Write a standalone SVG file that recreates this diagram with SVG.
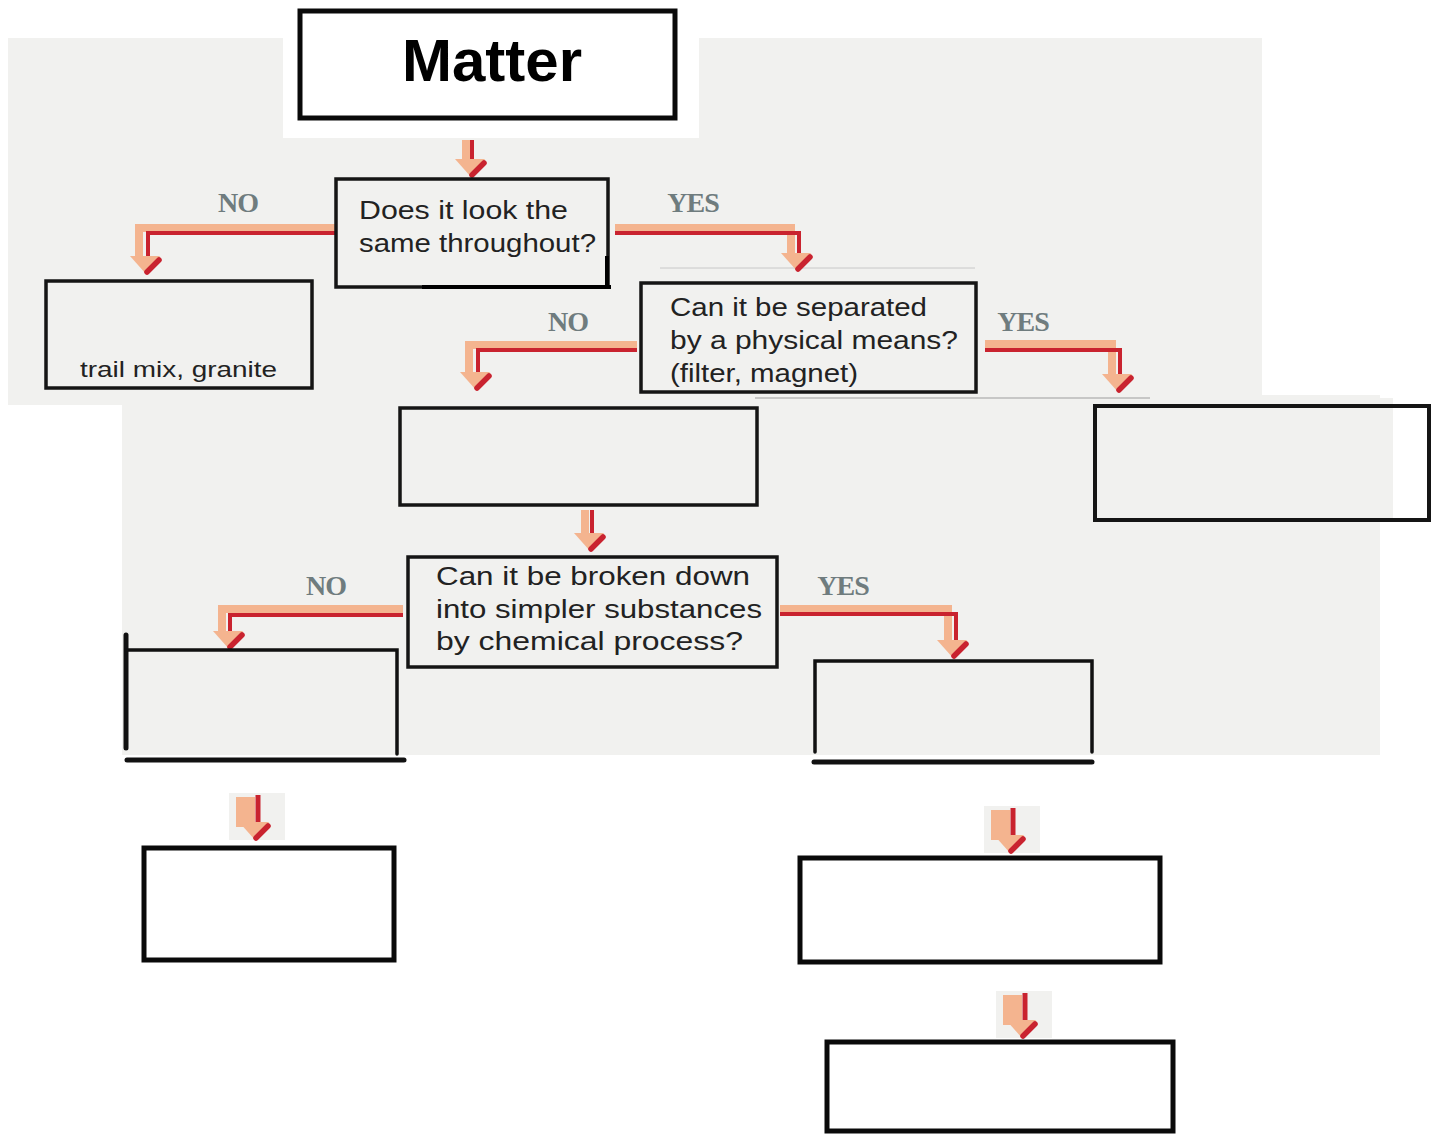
<svg xmlns="http://www.w3.org/2000/svg" xmlns:xlink="http://www.w3.org/1999/xlink" width="1432" height="1134" viewBox="0 0 1432 1134">
<style>
.box{fill:none;stroke:#151515;stroke-width:3.5}
.boxk{fill:none;stroke:#0a0a0a;stroke-width:5}
.q{font-family:"Liberation Sans",Arial,sans-serif;font-size:26px;fill:#222}
.lbl{font-family:"Liberation Serif","Times New Roman",serif;font-size:28px;font-weight:bold;fill:#6f7c7e;letter-spacing:-1px}
.pe{fill:none;stroke:#f4b48f;stroke-width:8}
.rd{fill:none;stroke:#c9232f;stroke-width:4}
.ln{fill:none;stroke:#111;stroke-linecap:round}
</style>
<defs>
<g id="ah">
<polygon points="-16,-18 14,-18 0,0" fill="#f4b48f"/>
<line x1="13" y1="-14" x2="1" y2="-2" stroke="#c9232f" stroke-width="5.5" stroke-linecap="round"/>
</g>
<g id="sa">
<rect x="-28" y="0" width="56" height="47" fill="#f1f1ef"/>
<rect x="-21" y="4" width="19" height="30" fill="#f4b48f"/>
<line x1="1" y1="2" x2="1" y2="30" stroke="#c9232f" stroke-width="5"/>
<use xlink:href="#ah" x="-2" y="47"/>
</g>
</defs>
<rect width="1432" height="1134" fill="#fff"/>
<g id="background">
<rect x="8" y="38" width="1254" height="367" fill="#f1f1ef"/>
<rect x="122" y="395" width="1258" height="360" fill="#f1f1ef"/>
<rect x="1378" y="398" width="15" height="124" fill="#f1f1ef"/>
<rect x="283" y="0" width="416" height="138" fill="#fff"/>
<line x1="660" y1="268" x2="975" y2="268" stroke="#c8c8c8" stroke-width="1"/>
<line x1="755" y1="398" x2="1150" y2="398" stroke="#b8b8b8" stroke-width="1.5"/>
</g>
<g id="connectors">
<path class="pe" d="M466,140 V164"/>
<path class="rd" d="M472,140 V164"/>
<use xlink:href="#ah" x="471" y="177"/>
<path class="pe" d="M335,228 H139 V260"/>
<path class="rd" d="M335,233 H148 V262"/>
<use xlink:href="#ah" x="146" y="274"/>
<path class="pe" d="M615,228 H791 V257"/>
<path class="rd" d="M615,233 H799 V258"/>
<use xlink:href="#ah" x="797" y="271"/>
<path class="pe" d="M637,345 H469 V377"/>
<path class="rd" d="M637,350 H478 V378"/>
<use xlink:href="#ah" x="476" y="390"/>
<path class="pe" d="M985,344 H1112 V378"/>
<path class="rd" d="M985,350 H1120 V379"/>
<use xlink:href="#ah" x="1118" y="392"/>
<path class="pe" d="M585,510 V538"/>
<path class="rd" d="M592,510 V538"/>
<use xlink:href="#ah" x="590" y="551"/>
<path class="pe" d="M403,609 H222 V636"/>
<path class="rd" d="M403,615 H230 V636"/>
<use xlink:href="#ah" x="229" y="649"/>
<path class="pe" d="M780,609 H948 V645"/>
<path class="rd" d="M780,614 H956 V645"/>
<use xlink:href="#ah" x="953" y="658"/>
<use xlink:href="#sa" x="257" y="793"/>
<use xlink:href="#sa" x="1012" y="806"/>
<use xlink:href="#sa" x="1024" y="991"/>
<text class="lbl" x="238" y="212" text-anchor="middle">NO</text>
<text class="lbl" x="693" y="212" text-anchor="middle">YES</text>
<text class="lbl" x="568" y="331" text-anchor="middle">NO</text>
<text class="lbl" x="1023" y="331" text-anchor="middle">YES</text>
<text class="lbl" x="326" y="595" text-anchor="middle">NO</text>
<text class="lbl" x="843" y="595" text-anchor="middle">YES</text>
</g>
<g id="matter">
<rect x="300" y="11" width="375" height="107" fill="#fff" stroke="#0a0a0a" stroke-width="5"/>
<text x="492" y="81" text-anchor="middle" font-family="Liberation Sans,Arial,sans-serif" font-weight="bold" font-size="60" fill="#000">Matter</text>
</g>
<g id="q1">
<rect class="box" x="336" y="179" width="272" height="108"/>
<path d="M607,256 V286 M422,287 H611" stroke="#000" stroke-width="4" fill="none"/>
<text class="q" x="359" y="219" textLength="209" lengthAdjust="spacingAndGlyphs">Does it look the</text>
<text class="q" x="359" y="252" textLength="237" lengthAdjust="spacingAndGlyphs">same throughout?</text>
</g>
<g id="box-a">
<rect class="box" x="46" y="281" width="266" height="107"/>
<text class="q" x="80" y="377" style="font-size:22px" textLength="197" lengthAdjust="spacingAndGlyphs">trail mix, granite</text>
</g>
<g id="q2">
<rect class="box" x="641" y="283" width="335" height="109"/>
<text class="q" x="670" y="316" textLength="257" lengthAdjust="spacingAndGlyphs">Can it be separated</text>
<text class="q" x="670" y="349" textLength="288" lengthAdjust="spacingAndGlyphs">by a physical means?</text>
<text class="q" x="670" y="382" textLength="188" lengthAdjust="spacingAndGlyphs">(filter, magnet)</text>
</g>
<g id="box-b">
<rect class="box" x="400" y="408" width="357" height="97"/>
</g>
<g id="box-c">
<rect x="1429" y="405" width="3" height="115" fill="#fff"/>
<rect x="1095" y="406" width="334" height="114" fill="none" stroke="#151515" stroke-width="4"/>
</g>
<g id="q3">
<rect class="box" x="408" y="557" width="369" height="110"/>
<text class="q" x="436" y="585" textLength="314" lengthAdjust="spacingAndGlyphs">Can it be broken down</text>
<text class="q" x="436" y="618" textLength="326" lengthAdjust="spacingAndGlyphs">into simpler substances</text>
<text class="q" x="436" y="650" textLength="307" lengthAdjust="spacingAndGlyphs">by chemical process?</text>
</g>
<g id="box-d">
<path class="ln" d="M126,635 V748" stroke-width="5"/>
<path class="ln" d="M126,650 H397 V754" stroke-width="3.5" stroke-linecap="butt"/>
<path class="ln" d="M127,760 H404" stroke-width="5"/>
</g>
<g id="box-e">
<path class="ln" d="M815,752 V661 H1092 V752" stroke-width="3.5" stroke-linecap="butt"/>
<path class="ln" d="M814,762 H1092" stroke-width="5"/>
</g>
<g id="box-f">
<rect class="boxk" x="144" y="848" width="250" height="112"/>
</g>
<g id="box-g">
<rect class="boxk" x="800" y="858" width="360" height="104"/>
</g>
<g id="box-h">
<rect class="boxk" x="827" y="1042" width="346" height="89"/>
</g>
</svg>
